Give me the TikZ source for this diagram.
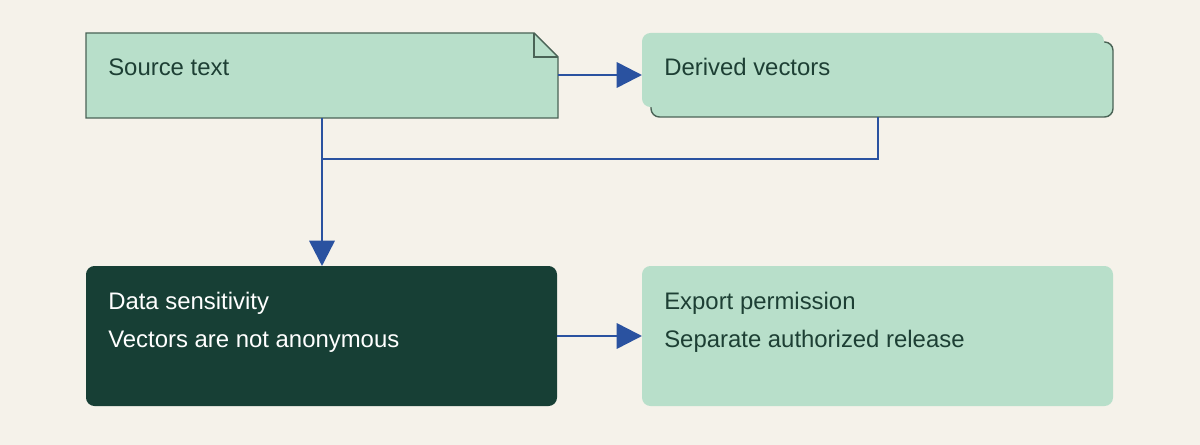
\documentclass[tikz,border=0pt]{standalone}
\usepackage{fontspec}
\setmainfont{Liberation Sans}
\usetikzlibrary{positioning, arrows.meta}
\definecolor{bgc}{HTML}{F5F2EA}
\definecolor{mint}{HTML}{B8DFCA}
\definecolor{deep}{HTML}{173F35}
\definecolor{rim}{HTML}{4A6356}
\definecolor{flow}{HTML}{2A52A0}
\definecolor{ink}{HTML}{1D3F34}
\begin{document}
\begin{tikzpicture}[
    x = 0.025cm, y = -0.025cm,
    box/.style = {inner sep = 0, outer sep = 0, anchor = north west},
    panel/.style = {box, fill = mint, rounded corners = 6},
    title/.style = {anchor = base west, inner sep = 0,
      font = \fontsize{17}{20}\selectfont, text = ink},
    link/.style = {draw = flow, line width = 1.8pt, -{Triangle[length=18pt,width=18pt]}},
    ]

    \fill [bgc] (0, 0) rectangle (1200, 445);

    % note shape
    \node at (86, 33) [box, minimum width = 472*0.025cm,
      minimum height = 85*0.025cm, name = src] {};
    \draw [rim, fill = mint, line width = 1pt]
      (src.north west) -- ++(448, 0) -- ++(24, 24) |- (src.south west) -- cycle;
    \draw [rim, line width = 1pt] ([xshift = 448*0.025cm]src.north west)
      -- ++(0, 24) -- ++(24, 0);

    % stacked vectors
    \node at (651, 42) [box, draw = rim, fill = mint, rounded corners = 6,
      line width = 1pt, minimum width = 462*0.025cm,
      minimum height = 75*0.025cm, name = vecs_back] {};
    \node at (642, 33) [panel, minimum width = 462*0.025cm,
      minimum height = 74*0.025cm, name = vecs] {};

    \node at (86, 266) [panel, fill = deep, minimum width = 471*0.025cm,
      minimum height = 140*0.025cm, name = sens] {};
    \node at (642, 266) [panel, minimum width = 471*0.025cm,
      minimum height = 140*0.025cm, name = perm] {};

    \node at (108, 76) [title, name = src_t] {Source text};
    \node at (664, 76) [title, name = vecs_t] {Derived vectors};
    \node at (108, 309) [title, text = white, name = sens_t] {Data sensitivity};
    \node at (108, 347) [title, text = white, name = sens_s] {Vectors are not anonymous};
    \node at (664, 309) [title, name = perm_t] {Export permission};
    \node at (664, 347) [title, name = perm_s] {Separate authorized release};

    \coordinate (src_out) at (558, 75);
    \coordinate (merge) at (322, 159);
    \coordinate (drop) at (878, 0);
    \coordinate (side) at (0, 336);

    \draw [link] (src_out) -- (vecs.west |- src_out);
    \draw [link] (src.south -| merge) -- (sens.north -| merge);
    \draw [flow, line width = 1.8pt] (vecs_back.south -| drop) |- (merge);
    \draw [link] (sens.east |- side) -- (perm.west |- side);
  \end{tikzpicture}
\end{document}
